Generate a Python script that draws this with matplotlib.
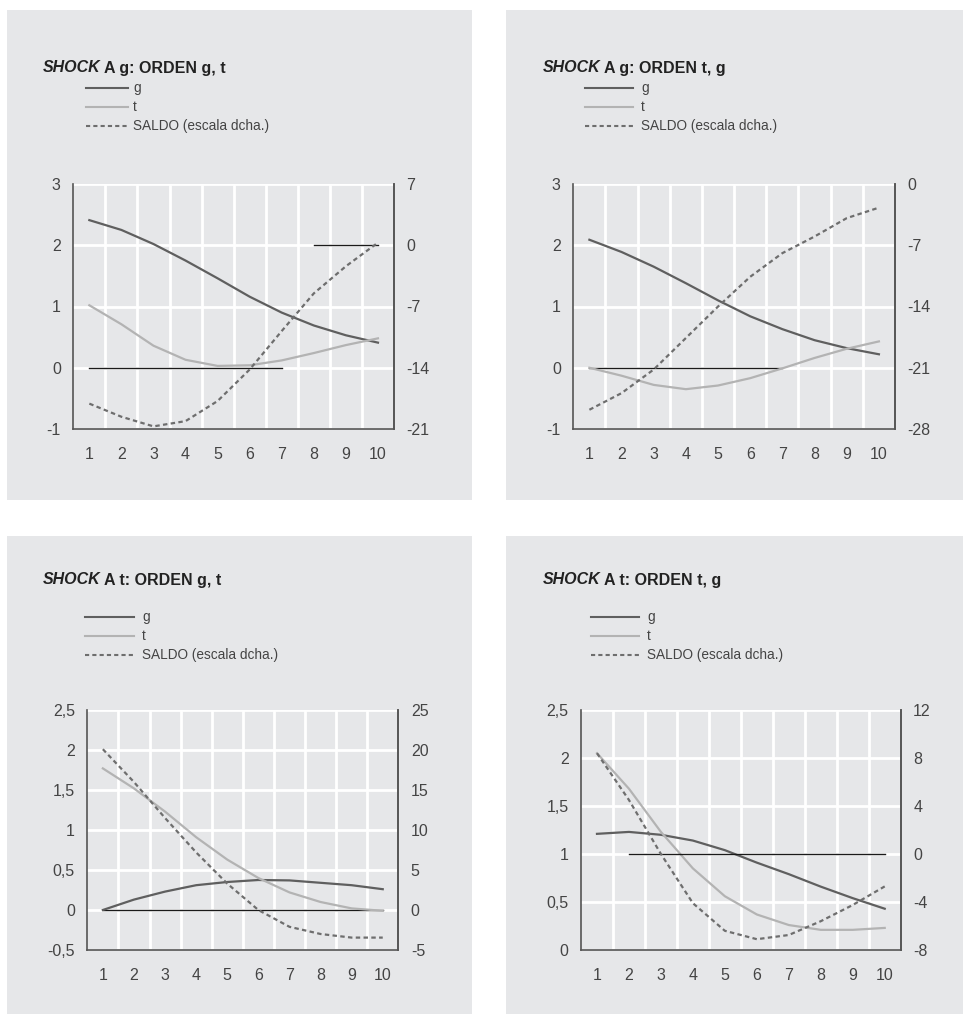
import matplotlib
matplotlib.use("Agg")
import matplotlib.pyplot as plt
from matplotlib.patches import Rectangle

plt.rcParams['font.family'] = ['Liberation Sans', 'DejaVu Sans']

W, H = 963, 1014
BG = '#e6e7e9'
G_COL = '#5f5f5f'
T_COL = '#b3b3b3'
S_COL = '#6e6e6e'
TXT = '#444444'

x = list(range(1, 11))

# SHOCK A g: ORDEN g, t
g1 = [2.41, 2.25, 2.02, 1.75, 1.46, 1.16, 0.90, 0.69, 0.53, 0.41]
t1 = [1.02, 0.71, 0.36, 0.13, 0.03, 0.04, 0.12, 0.24, 0.37, 0.48]
s1 = [-18.1, -19.6, -20.7, -20.1, -17.8, -14.2, -9.8, -5.5, -2.4, 0.3]

# SHOCK A g: ORDEN t, g
g2 = [2.09, 1.89, 1.65, 1.38, 1.10, 0.84, 0.63, 0.45, 0.32, 0.22]
t2 = [0.00, -0.13, -0.28, -0.35, -0.29, -0.17, -0.01, 0.16, 0.31, 0.43]
s2 = [-25.8, -23.9, -21.2, -17.6, -14.0, -10.6, -7.9, -6.0, -3.9, -2.7]

# SHOCK A t: ORDEN g, t
g3 = [0.00, 0.13, 0.23, 0.31, 0.35, 0.375, 0.37, 0.34, 0.31, 0.26]
t3 = [1.77, 1.52, 1.23, 0.91, 0.63, 0.40, 0.22, 0.10, 0.02, -0.01]
s3 = [20.1, 16.0, 11.5, 7.2, 3.3, 0.0, -2.1, -3.0, -3.45, -3.45]

# SHOCK A t: ORDEN t, g
g4 = [1.21, 1.23, 1.20, 1.14, 1.04, 0.91, 0.79, 0.66, 0.54, 0.43]
t4 = [2.05, 1.68, 1.23, 0.85, 0.56, 0.37, 0.26, 0.21, 0.21, 0.23]
s4 = [8.4, 4.5, 0.0, -4.1, -6.4, -7.1, -6.75, -5.6, -4.25, -2.7]

titles = ['g: ORDEN g, t', 'g: ORDEN t, g', 't: ORDEN g, t', 't: ORDEN t, g']
legend_labels = ['g', 't', 'SALDO (escala dcha.)']

left_ticks_a = [-1, 0, 1, 2, 3]
left_labels_a = ['-1', '0', '1', '2', '3']
right_ticks_1 = [-21, -14, -7, 0, 7]
right_ticks_2 = [-28, -21, -14, -7, 0]
left_ticks_b = [-0.5, 0, 0.5, 1, 1.5, 2, 2.5]
left_labels_b = ['-0,5', '0', '0,5', '1', '1,5', '2', '2,5']
left_ticks_c = [0, 0.5, 1, 1.5, 2, 2.5]
left_labels_c = ['0', '0,5', '1', '1,5', '2', '2,5']
right_ticks_3 = [-5, 0, 5, 10, 15, 20, 25]
right_ticks_4 = [-8, -4, 0, 4, 8, 12]

fig = plt.figure(figsize=(W / 100, H / 100), dpi=100)
fig.patch.set_facecolor('white')


def px_rect(x0, y0, x1, y1):
    return [x0 / W, 1 - y1 / H, (x1 - x0) / W, (y1 - y0) / H]


def fy(y):
    return 1 - y / H


def panel(bg, axbox, title_xy, title, leg, g, t, s, lt, ll, rt, zero_left, zero_right):
    bx0, by0, bx1, by1 = bg
    fig.patches.append(Rectangle((bx0 / W, fy(by1)), (bx1 - bx0) / W, (by1 - by0) / H,
                                 transform=fig.transFigure, facecolor=BG,
                                 edgecolor='none', zorder=-10))

    # title: italic SHOCK, then the rest in bold
    tx, ty = title_xy
    t_it = fig.text(tx / W, fy(ty), 'SHOCK', fontsize=11.5, fontweight='bold',
                    fontstyle='italic', color='#222222', va='center', ha='left')
    fig.canvas.draw()
    bb = t_it.get_window_extent()
    fig.text((bb.x1 + 3) / W, fy(ty), 'A ' + title, fontsize=11.5, fontweight='bold',
             color='#222222', va='center', ha='left')

    # hand-drawn legend
    lx0, lx1, ltx, ly = leg
    styles = [(G_COL, '-'), (T_COL, '-'), (S_COL, '--')]
    for i, (lab, (col, ls)) in enumerate(zip(legend_labels, styles)):
        yy = fy(ly + i * 19)
        ln = plt.Line2D([lx0 / W, lx1 / W], [yy, yy], transform=fig.transFigure,
                        color=col, lw=1.5, ls=ls)
        if ls == '--':
            ln.set_dashes((2, 1.5))
        fig.lines.append(ln)
        fig.text(ltx / W, yy, lab, fontsize=9.8, color=TXT, va='center', ha='left')

    ax = fig.add_axes(px_rect(*axbox))
    ax.set_facecolor(BG)
    ax.set_xlim(0.5, 10.5)
    ax.set_ylim(lt[0], lt[-1])
    ax.set_yticks(lt)
    ax.set_yticklabels(ll)
    ax.set_xticks(x)
    ax.set_xticks([i + 0.5 for i in range(1, 10)], minor=True)
    ax.grid(True, axis='x', which='minor', color='white', lw=2)
    ax.grid(True, axis='y', which='major', color='white', lw=2)
    ax.grid(False, axis='x', which='major')
    ax.tick_params(axis='both', which='both', length=0, labelsize=11.5, labelcolor=TXT)
    ax.tick_params(axis='y', pad=9)
    ax.tick_params(axis='x', pad=13)
    ax.set_axisbelow(True)
    for side in ['left', 'bottom', 'right']:
        ax.spines[side].set_color('#555555')
        ax.spines[side].set_linewidth(1.2)
    ax.spines['top'].set_visible(False)

    ax2 = ax.twinx()
    ax2.set_ylim(rt[0], rt[-1])
    ax2.set_yticks(rt)
    ax2.set_yticklabels([str(v) for v in rt])
    ax2.tick_params(axis='y', length=0, labelsize=11.5, labelcolor=TXT, pad=9)
    for side in ['top', 'left', 'bottom']:
        ax2.spines[side].set_visible(False)
    ax2.spines['right'].set_color('#555555')
    ax2.spines['right'].set_linewidth(1.2)

    # zero reference lines
    if zero_left:
        ax.plot(zero_left, [0, 0], color='#1a1a1a', lw=1.0, zorder=3)
    if zero_right:
        ax2.plot(zero_right, [0, 0], color='#1a1a1a', lw=1.0, zorder=1)
    ax.plot(x, g, color=G_COL, lw=1.6, zorder=4)
    ax.plot(x, t, color=T_COL, lw=1.6, zorder=4)
    ax2.plot(x, s, color=S_COL, lw=1.6, ls='--', dashes=(2, 1.5), zorder=5)


panel((7, 10, 472, 500), (73.3, 184, 394, 429), (43, 68), titles[0], (86, 128, 133, 88),
      g1, t1, s1, left_ticks_a, left_labels_a, right_ticks_1, [1, 7], [8, 10])
panel((506, 10, 963, 500), (573.3, 184, 895, 429), (543, 68), titles[1], (585, 633, 641, 88),
      g2, t2, s2, left_ticks_a, left_labels_a, right_ticks_2, [1, 7], None)
panel((7, 536, 472, 1014), (87.3, 710, 398.3, 950), (43, 580), titles[2], (85, 134, 142, 617),
      g3, t3, s3, left_ticks_b, left_labels_b, right_ticks_3, [1, 10], None)
panel((506, 536, 963, 1014), (581, 710, 900.7, 950), (543, 580), titles[3], (591, 639, 647, 617),
      g4, t4, s4, left_ticks_c, left_labels_c, right_ticks_4, None, [2, 10])

fig.savefig('out.png', dpi=100, facecolor=fig.get_facecolor())
